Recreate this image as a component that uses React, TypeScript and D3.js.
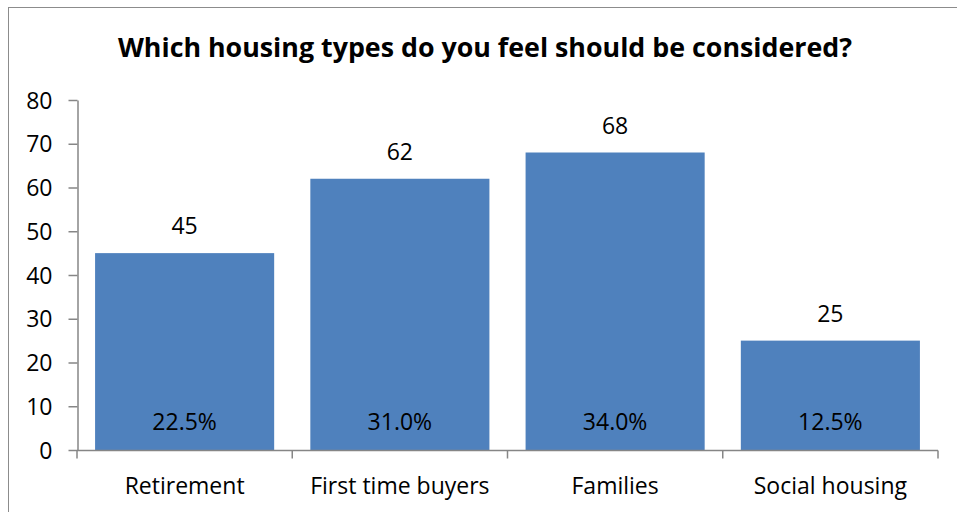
import React, { useEffect, useRef } from "react";
import * as d3 from "d3";

// chart data
const categories = ["Retirement", "First time buyers", "Families", "Social housing"];
const counts = [45, 62, 68, 25];
const shares = ["22.5%", "31.0%", "34.0%", "12.5%"];
const yTicks = [0, 10, 20, 30, 40, 50, 60, 70, 80];
const title = "Which housing types do you feel should be considered?";

const W = 957;
const H = 512;
const FONT = "'Open Sans', 'Noto Sans', sans-serif";
const LABEL_SIZE = "23px";

const App: React.FC = () => {
  const svgRef = useRef<SVGSVGElement | null>(null);

  useEffect(() => {
    const svg = d3.select(svgRef.current);
    svg.selectAll("*").remove();

    const plot = { left: 77, right: 938, top: 100, bottom: 450 };

    // outer frame (right/bottom edges fall outside the picture)
    svg
      .append("rect")
      .attr("x", 8.5)
      .attr("y", 7.5)
      .attr("width", 1000)
      .attr("height", 600)
      .attr("fill", "#fff")
      .attr("stroke", "#8c8c8c")
      .attr("stroke-width", 1);

    svg
      .append("text")
      .attr("x", 485)
      .attr("y", 57)
      .attr("text-anchor", "middle")
      .style("font-family", FONT)
      .style("font-weight", "bold")
      .style("font-size", "26.8px")
      .attr("fill", "#000")
      .text(title);

    const x = d3
      .scaleBand<string>()
      .domain(categories)
      .range([plot.left, plot.right])
      .paddingInner(0.168)
      .paddingOuter(0.084);

    const y = d3.scaleLinear().domain([0, 80]).range([plot.bottom, plot.top]);

    const g = svg.append("g");

    // bars
    g.selectAll(".bar")
      .data(counts)
      .enter()
      .append("rect")
      .attr("class", "bar")
      .attr("x", (_d, i) => x(categories[i]) as number)
      .attr("y", (d) => y(d))
      .attr("width", x.bandwidth())
      .attr("height", (d) => y(0) - y(d))
      .attr("fill", "#4f81bd");

    // value labels above bars
    g.selectAll(".val")
      .data(counts)
      .enter()
      .append("text")
      .attr("class", "val")
      .attr("x", (_d, i) => (x(categories[i]) as number) + x.bandwidth() / 2)
      .attr("y", (d) => y(d) - 19)
      .attr("text-anchor", "middle")
      .style("font-family", FONT)
      .style("font-size", LABEL_SIZE)
      .attr("fill", "#000")
      .text((d) => d);

    // share labels inside bars
    g.selectAll(".share")
      .data(shares)
      .enter()
      .append("text")
      .attr("class", "share")
      .attr("x", (_d, i) => (x(categories[i]) as number) + x.bandwidth() / 2)
      .attr("y", 430)
      .attr("text-anchor", "middle")
      .style("font-family", FONT)
      .style("font-size", LABEL_SIZE)
      .attr("fill", "#000")
      .text((d) => d);

    // y axis
    const yAxis = g
      .append("g")
      .attr("transform", `translate(${plot.left + 0.5},0)`)
      .call(d3.axisLeft(y).tickValues(yTicks).tickSize(9).tickPadding(16).tickSizeOuter(0));
    yAxis.selectAll("path, line").attr("stroke", "#868686").attr("stroke-width", 1.5);
    yAxis
      .selectAll("text")
      .style("font-family", FONT)
      .style("font-size", LABEL_SIZE)
      .attr("fill", "#000")
      .attr("dy", "0.35em");

    // x axis with category boundary ticks
    const xAxis = g.append("g").attr("transform", `translate(0,${plot.bottom + 0.5})`);
    xAxis
      .append("line")
      .attr("x1", plot.left)
      .attr("x2", plot.right)
      .attr("stroke", "#868686")
      .attr("stroke-width", 1.5);
    const bounds = categories.map((c) => (x(c) as number) - (x.step() * x.paddingInner()) / 2);
    bounds.push(plot.right);
    xAxis
      .selectAll(".xt")
      .data(bounds)
      .enter()
      .append("line")
      .attr("x1", (d) => d)
      .attr("x2", (d) => d)
      .attr("y1", 0)
      .attr("y2", 8)
      .attr("stroke", "#868686")
      .attr("stroke-width", 1.5);
    xAxis
      .selectAll(".xl")
      .data(categories)
      .enter()
      .append("text")
      .attr("x", (d) => (x(d) as number) + x.bandwidth() / 2)
      .attr("y", 43)
      .attr("text-anchor", "middle")
      .style("font-family", FONT)
      .style("font-size", LABEL_SIZE)
      .attr("fill", "#000")
      .text((d) => d);
  }, []);

  return (
    <svg
      ref={svgRef}
      width={W}
      height={H}
      style={{ position: "absolute", left: 0, top: 0, background: "#fff" }}
    />
  );
};

export default App;
